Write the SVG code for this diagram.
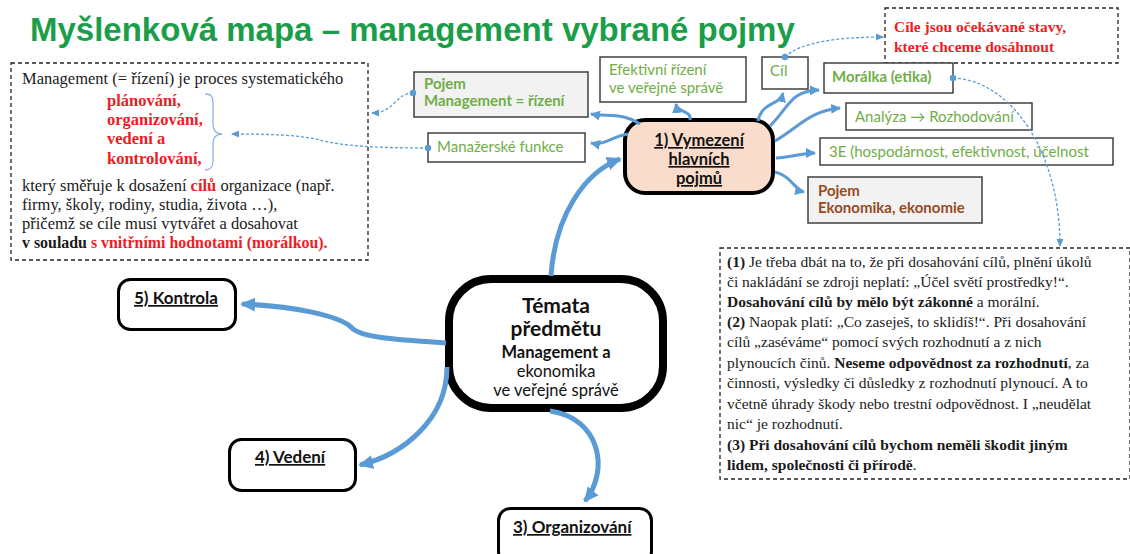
<svg xmlns="http://www.w3.org/2000/svg" width="1130" height="554" viewBox="0 0 1130 554">
  <defs>
    <marker id="ah-big" markerUnits="userSpaceOnUse" markerWidth="16" markerHeight="16" refX="13" refY="8" orient="auto">
      <path d="M0,1 L15,8 L0,15 z" fill="#5b9bd5"/>
    </marker>
    <marker id="ah-small" markerUnits="userSpaceOnUse" markerWidth="11" markerHeight="10" refX="9" refY="5" orient="auto">
      <path d="M0,0 L10,5 L0,10 z" fill="#5b9bd5"/>
    </marker>
    <marker id="ah-dash" markerUnits="userSpaceOnUse" markerWidth="8" markerHeight="8" refX="7" refY="4" orient="auto">
      <path d="M0,0.5 L8,4 L0,7.5 z" fill="#5b9bd5"/>
    </marker>
    <marker id="dot" markerUnits="userSpaceOnUse" markerWidth="8" markerHeight="8" refX="4" refY="4">
      <circle cx="4" cy="4" r="3.2" fill="#5b9bd5"/>
    </marker>
  </defs>
  <style>
    .serif { font-family: "Liberation Serif", "Times New Roman", serif; font-size: 15.5px; fill: #1a1a1a; }
    .big { font-size: 16.5px; }
    .b { font-weight: bold; }
    .red { fill: #ee1c25; font-weight: bold; }
    .sans { font-family: Lato, "Open Sans", "Liberation Sans", sans-serif; fill: #111; text-anchor: middle; }
    .lbl { font-family: Lato, "Open Sans", "Liberation Sans", sans-serif; font-size: 15px; fill: #70ad47; }
    .box { fill: #ffffff; stroke: #404040; stroke-width: 1.5; }
    .gbox { fill: #f2f2f2; stroke: #404040; stroke-width: 1.5; }
    .note { fill: none; stroke: #222; stroke-width: 1.3; stroke-dasharray: 4 3; }
    .topic { fill: #ffffff; stroke: #000; stroke-width: 3; }
    .ttl { font-family: Lato, "Open Sans", "Liberation Sans", sans-serif; font-weight: bold; font-size: 17px; fill: #111; text-decoration: underline; }
    .thick { fill: none; stroke: #5b9bd5; stroke-width: 5; marker-end: url(#ah-big); }
    .thin { fill: none; stroke: #5b9bd5; stroke-width: 3; marker-end: url(#ah-small); }
    .dash { fill: none; stroke: #5b9bd5; stroke-width: 1.3; stroke-dasharray: 3 2; marker-end: url(#ah-dash); marker-start: url(#dot); }
  </style>

  <rect width="1130" height="554" fill="#ffffff"/>

  <!-- heading -->
  <text x="30" y="41" font-family="'Liberation Sans', Arial, sans-serif" font-weight="bold" font-size="33" fill="#1a9e4a">Myšlenková mapa – management vybrané pojmy</text>

  <!-- definition note -->
  <g id="note-management">
    <rect class="note" x="11" y="63" width="357" height="197"/>
    <text class="serif big" x="22" y="84">Management (= řízení) je proces systematického</text>
    <text class="serif big red" x="107" y="106">plánování,</text>
    <text class="serif big red" x="107" y="125">organizování,</text>
    <text class="serif big red" x="107" y="144">vedení a</text>
    <text class="serif big red" x="107" y="164">kontrolování,</text>
    <path d="M205,94 C213,94 213,98 213,106 L213,124 C213,131 216,134 222,134 C216,134 213,137 213,144 L213,160 C213,167 211,170 205,170" fill="none" stroke="#8eb4e3" stroke-width="1.3"/>
    <text class="serif big" x="22" y="191">který směřuje k dosažení <tspan class="red">cílů</tspan> organizace (např.</text>
    <text class="serif big" x="22" y="210">firmy, školy, rodiny, studia, života …),</text>
    <text class="serif big" x="22" y="229">přičemž se cíle musí vytvářet a dosahovat</text>
    <text class="serif" x="22" y="248" style="font-size:15.9px"><tspan class="b">v souladu</tspan> <tspan class="red">s vnitřními hodnotami (morálkou).</tspan></text>
  </g>

  <!-- goals note -->
  <g id="note-cile">
    <rect class="note" x="885" y="8" width="233" height="55"/>
    <text class="serif red" x="894" y="32">Cíle jsou očekávané stavy,</text>
    <text class="serif red" x="894" y="52">které chceme dosáhnout</text>
  </g>

  <!-- ethics note -->
  <g id="note-etika">
    <rect class="note" x="720" y="248" width="410" height="231"/>
    <text class="serif" x="727" y="267"><tspan class="b">(1)</tspan> Je třeba dbát na to, že při dosahování cílů, plnění úkolů</text>
    <text class="serif" x="727" y="287">či nakládání se zdroji neplatí: „Účel světí prostředky!“.</text>
    <text class="serif" x="727" y="307"><tspan class="b">Dosahování cílů by mělo být zákonné</tspan> a morální.</text>
    <text class="serif" x="727" y="327"><tspan class="b">(2)</tspan> Naopak platí: „Co zaseješ, to sklidíš!“. Při dosahování</text>
    <text class="serif" x="727" y="347">cílů „zaséváme“ pomocí svých rozhodnutí a z nich</text>
    <text class="serif" x="727" y="368">plynoucích činů. <tspan class="b">Neseme odpovědnost za rozhodnutí</tspan>, za</text>
    <text class="serif" x="727" y="388">činnosti, výsledky či důsledky z rozhodnutí plynoucí. A to</text>
    <text class="serif" x="727" y="409">včetně úhrady škody nebo trestní odpovědnost. I „neudělat</text>
    <text class="serif" x="727" y="429">nic“ je rozhodnutí.</text>
    <text class="serif b" x="727" y="450">(3) Při dosahování cílů bychom neměli škodit jiným</text>
    <text class="serif" x="727" y="470"><tspan class="b">lidem, společnosti či přírodě</tspan>.</text>
  </g>

  <!-- concept boxes -->
  <g id="pojem-management">
    <rect class="gbox" x="414" y="72" width="174" height="45"/>
    <text class="lbl" x="424" y="89" font-weight="bold">Pojem</text>
    <text class="lbl" x="424" y="106" font-weight="bold">Management = řízení</text>
  </g>
  <g id="manazerske-funkce">
    <rect class="box" x="428" y="133" width="157" height="29"/>
    <text class="lbl" x="437" y="152">Manažerské funkce</text>
  </g>
  <g id="efektivni-rizeni">
    <rect class="box" x="600" y="57" width="146" height="45"/>
    <text class="lbl" x="609" y="75">Efektivní řízení</text>
    <text class="lbl" x="609" y="93">ve veřejné správě</text>
  </g>
  <g id="cil">
    <rect class="box" x="762" y="57" width="46" height="32"/>
    <text class="lbl" x="770" y="76">Cíl</text>
  </g>
  <g id="moralka">
    <rect class="box" x="824" y="63" width="129" height="30"/>
    <text class="lbl" x="832" y="82" font-weight="bold">Morálka (etika)</text>
  </g>
  <g id="analyza">
    <rect class="box" x="846" y="103" width="186" height="27"/>
    <text class="lbl" x="855" y="122">Analýza → Rozhodování</text>
  </g>
  <g id="tri-e">
    <rect class="box" x="820" y="138" width="293" height="27"/>
    <text class="lbl" x="829" y="157">3E (hospodárnost, efektivnost, účelnost</text>
  </g>
  <g id="pojem-ekonomika">
    <rect class="gbox" x="808" y="177" width="174" height="46"/>
    <text class="lbl" x="818" y="196" font-weight="bold" style="fill:#974a1e">Pojem</text>
    <text class="lbl" x="818" y="213" font-weight="bold" style="fill:#974a1e">Ekonomika, ekonomie</text>
  </g>

  <!-- topic nodes -->
  <g id="vymezeni">
    <rect x="625" y="120" width="148" height="73" rx="20" fill="#f9dccb" stroke="#000" stroke-width="4"/>
    <text class="ttl" x="699" y="146" text-anchor="middle" style="font-size:16.5px">1) Vymezení</text>
    <text class="ttl" x="699" y="165" text-anchor="middle" style="font-size:16.5px">hlavních</text>
    <text class="ttl" x="699" y="184" text-anchor="middle" style="font-size:16.5px">pojmů</text>
  </g>
  <g id="temata">
    <rect x="449" y="279" width="214" height="129" rx="42" fill="#ffffff" stroke="#000" stroke-width="8"/>
    <text class="sans" x="556" y="313" font-weight="bold" font-size="21">Témata</text>
    <text class="sans" x="556" y="336" font-weight="bold" font-size="21">předmětu</text>
    <text class="sans" x="556" y="358" font-weight="bold" font-size="16.5">Management a</text>
    <text class="sans" x="556" y="377" font-size="16.5">ekonomika</text>
    <text class="sans" x="556" y="396" font-size="16.5">ve veřejné správě</text>
  </g>
  <g id="kontrola">
    <rect class="topic" x="118.5" y="279.5" width="117" height="50" rx="12"/>
    <text class="ttl" x="134" y="304">5) Kontrola</text>
  </g>
  <g id="vedeni">
    <rect class="topic" x="229.5" y="439.5" width="126" height="51" rx="12"/>
    <text class="ttl" x="255" y="463">4) Vedení</text>
  </g>
  <g id="organizovani">
    <rect class="topic" x="498.5" y="508.5" width="153" height="55" rx="12"/>
    <text class="ttl" x="513" y="533">3) Organizování</text>
  </g>

  <!-- connectors -->
  <g id="connectors">
    <path class="thick" d="M551,276 C555,215 585,172 620,159" stroke-width="6"/>
    <path class="thick" d="M446,343 C400,340 362,338 352,328 C340,315 290,306 242,304"/>
    <path class="thick" d="M447,367 C447,420 402,455 360,465"/>
    <path class="thick" d="M550,411 C600,418 610,470 585,501"/>

    <path class="thin" d="M640,124 C622,112 608,117 591,114"/>
    <path class="thin" d="M628,134 C612,136 605,146 591,143"/>
    <path class="thin" d="M690,120 C692,110 677,113 676,104"/>
    <path class="thin" d="M758,121 C762,101 780,106 783,93"/>
    <path class="thin" d="M770,126 C790,106 790,91 819,90"/>
    <path class="thin" d="M775,141 C800,126 810,111 840,108"/>
    <path class="thin" d="M776,158 C790,158 800,153 815,153"/>
    <path class="thin" d="M775,172 C790,175 795,190 804,192"/>

    <path class="dash" d="M413,93 C395,93 395,113 372,113"/>
    <path class="dash" d="M428,148 C380,148 340,146 320,140 C300,135 270,134 232,134"/>
    <path class="dash" d="M785,57 C800,42 840,37 883,37"/>
    <path class="dash" d="M953,78 C1010,80 1060,150 1060,246"/>
  </g>
</svg>
